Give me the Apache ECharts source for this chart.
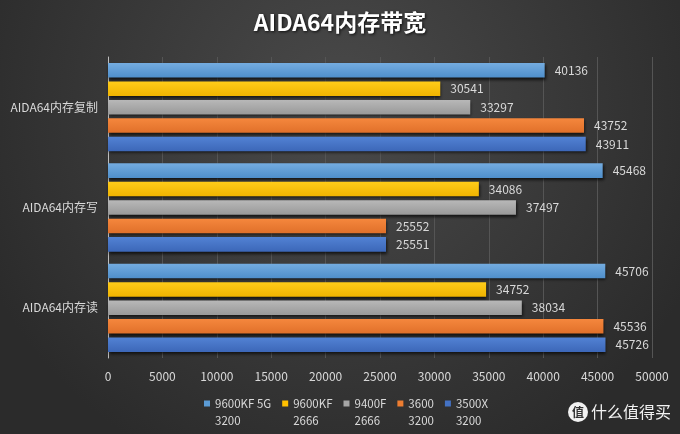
<!DOCTYPE html>
<html><head><meta charset="utf-8">
<script src="https://cdn.jsdelivr.net/npm/echarts@6/dist/echarts.min.js"></script>
<style>html,body{margin:0;padding:0;background:#333;}#c{width:680px;height:434px;}</style>
</head><body><div id="c"></div>
<script>
const categories = ['AIDA64内存复制', 'AIDA64内存写', 'AIDA64内存读'];
const seriesNames = ['9600KF 5G\n3200', '9600KF\n2666', '9400F\n2666', '3600\n3200', '3500X\n3200'];
const s9600kf5g = [40136, 45468, 45706];
const s9600kf = [30541, 34086, 34752];
const s9400f = [33297, 37497, 38034];
const s3600 = [43752, 25552, 45536];
const s3500x = [43911, 25551, 45726];
const xTicks = [0, 5000, 10000, 15000, 20000, 25000, 30000, 35000, 40000, 45000, 50000];

const seriesData = [s9600kf5g, s9600kf, s9400f, s3600, s3500x];
const colors = [
  ['#74ace0', '#4f8fcb'],
  ['#ffcc1a', '#f0b400'],
  ['#b8b8b8', '#999999'],
  ['#f5873d', '#e0702a'],
  ['#5282d4', '#3c67b8']
];
const legendColors = ['#5b9bd5', '#ffc000', '#a5a5a5', '#ed7d31', '#4472c4'];
const font = '"Noto Sans CJK SC", "Noto Sans", sans-serif';

const chart = echarts.init(document.getElementById('c'));
chart.setOption({
  backgroundColor: {
    type: 'radial', x: 0.5, y: 0.25, r: 0.9,
    colorStops: [{offset: 0, color: '#4a4a4a'}, {offset: 1, color: '#2b2b2b'}]
  },
  animation: false,
  title: {
    text: 'AIDA64内存带宽', left: 'center', top: 6,
    textStyle: {color: '#ffffff', fontSize: 23, fontWeight: 'bold', fontFamily: font,
      textShadowColor: 'rgba(0,0,0,0.8)', textShadowBlur: 3, textShadowOffsetX: 1, textShadowOffsetY: 1}
  },
  grid: {left: 108, right: 28, top: 57, bottom: 76, containLabel: false},
  legend: {
    left: 199, top: 373, itemWidth: 6, itemHeight: 6, itemGap: 11,
    icon: 'rect',
    data: seriesNames.map((n, i) => ({name: n, itemStyle: {color: legendColors[i]}})),
    formatter: name => ' \n' + name,
    textStyle: {color: '#d9d9d9', fontSize: 11.5, fontFamily: font, lineHeight: 17}
  },
  xAxis: {
    type: 'value', min: 0, max: 50000, interval: 5000,
    axisLine: {show: false}, axisTick: {show: false},
    splitLine: {show: true, lineStyle: {color: '#555555', width: 1}},
    axisLabel: {color: '#d9d9d9', fontSize: 12, fontFamily: font, margin: 12,
      formatter: v => xTicks.includes(v) ? String(v) : ''}
  },
  yAxis: {
    type: 'category', data: categories, inverse: true,
    axisLine: {show: true, lineStyle: {color: '#bfbfbf', width: 1}},
    axisTick: {show: false},
    axisLabel: {color: '#d9d9d9', fontSize: 12, fontFamily: font, margin: 10}
  },
  series: seriesData.map((d, i) => ({
    name: seriesNames[i], type: 'bar', data: d,
    barCategoryGap: '12%', barGap: '27%',
    itemStyle: {
      color: {type: 'linear', x: 0, y: 0, x2: 0, y2: 1,
        colorStops: [{offset: 0, color: colors[i][0]}, {offset: 1, color: colors[i][1]}]},
      shadowColor: 'rgba(0,0,0,0.7)', shadowBlur: 3, shadowOffsetX: 1, shadowOffsetY: 2
    },
    label: {show: true, position: 'right', distance: 10, color: '#d9d9d9', fontSize: 12, fontFamily: font}
  })),
  graphic: [
    {type: 'circle', shape: {cx: 578, cy: 412, r: 10}, style: {fill: '#f2f2f2'}},
    {type: 'text', x: 578, y: 412, style: {text: '值', fill: '#333333', font: 'bold 12px ' + font, align: 'center', verticalAlign: 'middle'}},
    {type: 'text', x: 591, y: 412, style: {text: '什么值得买', fill: '#f2f2f2', font: '16px ' + font, verticalAlign: 'middle'}}
  ]
});
</script></body></html>
